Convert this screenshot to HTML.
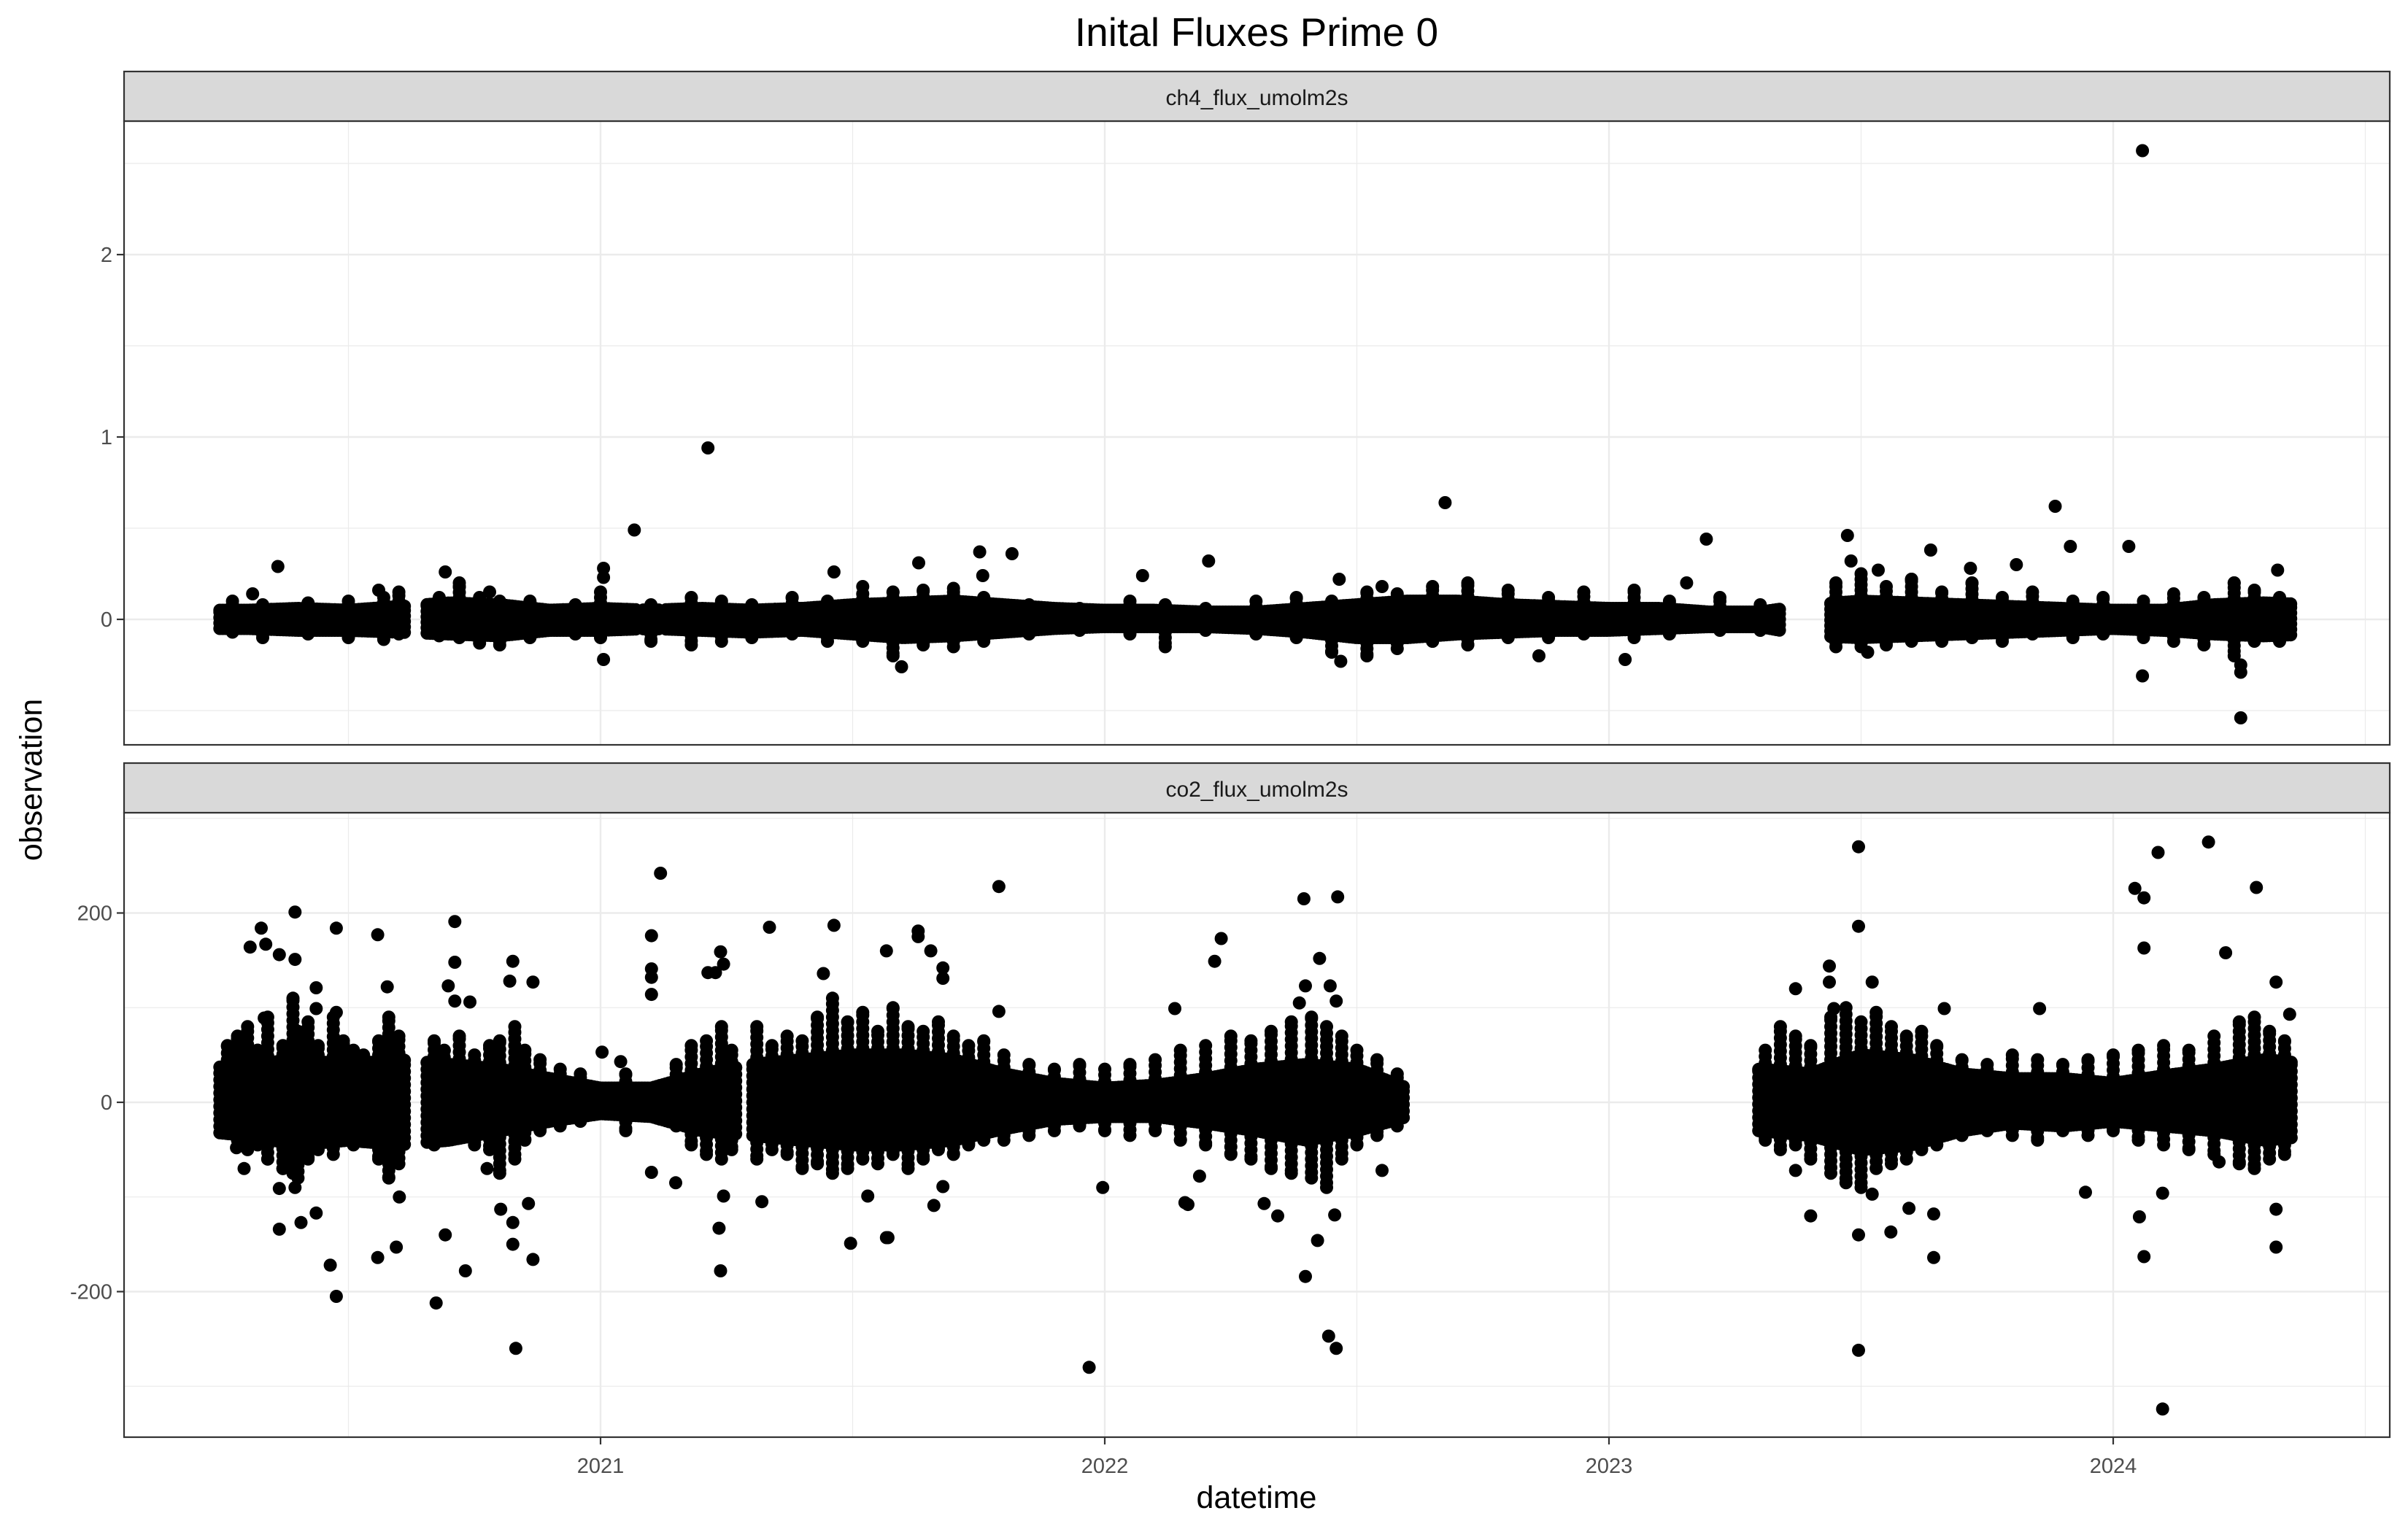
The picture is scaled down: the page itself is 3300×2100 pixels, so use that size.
<!DOCTYPE html>
<html><head><meta charset="utf-8"><style>
html,body{margin:0;padding:0;background:#fff}
svg{display:block;font-family:"Liberation Sans",Arial,sans-serif}
</style></head><body>
<svg id="chart" width="3300" height="2100" viewBox="0 0 3300 2100" xmlns="http://www.w3.org/2000/svg">
<rect width="3300" height="2100" fill="#fff"/>
<text x="1722" y="63" font-size="55" text-anchor="middle" fill="#000">Inital Fluxes Prime 0</text>
<text x="1722" y="2067" font-size="43" text-anchor="middle" fill="#000">datetime</text>
<text x="57" y="1069" font-size="43" text-anchor="middle" fill="#000" transform="rotate(-90 57 1069)">observation</text>
<g id="p1"></g>
<g id="p2"></g>
</svg>
<script>
// ---- data ----
const xTickYears = [2021, 2022, 2023, 2024];
const xTickLabels = ["2021", "2022", "2023", "2024"];
const ch4YTicks = [0, 1, 2];
const ch4YTickLabels = ["0", "1", "2"];
const co2YTicks = [-200, 0, 200];
const co2YTickLabels = ["-200", "0", "200"];

const ch4Segments = [[2020.245,2020.613],[2020.656,2021.07],[2021.085,2021.115],[2021.13,2023.342],[2023.44,2024.356]];
const ch4EnvYears = [2020.2,2020.3,2020.4,2020.5,2020.6,2020.7,2020.8,2020.9,2021.0,2021.1,2021.2,2021.3,2021.4,2021.5,2021.6,2021.7,2021.8,2021.9,2022.0,2022.1,2022.2,2022.3,2022.4,2022.5,2022.6,2022.7,2022.8,2022.9,2023.0,2023.1,2023.2,2023.3,2023.4,2023.5,2023.6,2023.7,2023.8,2023.9,2024.0,2024.1,2024.2,2024.3,2024.4];
const ch4EnvHi = [0.05,0.05,0.06,0.05,0.07,0.09,0.08,0.05,0.06,0.05,0.06,0.05,0.06,0.08,0.09,0.10,0.08,0.06,0.05,0.05,0.04,0.04,0.06,0.08,0.10,0.10,0.08,0.07,0.06,0.06,0.04,0.04,0.08,0.10,0.09,0.08,0.07,0.06,0.05,0.05,0.08,0.09,0.08];
const ch4EnvLo = [-0.05,-0.05,-0.06,-0.06,-0.07,-0.08,-0.09,-0.06,-0.06,-0.05,-0.06,-0.07,-0.06,-0.08,-0.10,-0.09,-0.07,-0.05,-0.04,-0.04,-0.04,-0.05,-0.07,-0.10,-0.10,-0.08,-0.07,-0.06,-0.06,-0.05,-0.04,-0.04,-0.09,-0.10,-0.09,-0.08,-0.07,-0.06,-0.05,-0.06,-0.08,-0.09,-0.08];
const ch4SpikeYears = [2020.27,2020.33,2020.42,2020.50,2020.57,2020.60,2020.68,2020.72,2020.76,2020.80,2020.86,2020.95,2021.00,2021.10,2021.18,2021.24,2021.30,2021.38,2021.45,2021.52,2021.58,2021.64,2021.70,2021.76,2021.85,2021.95,2022.05,2022.12,2022.20,2022.30,2022.38,2022.45,2022.52,2022.58,2022.65,2022.72,2022.80,2022.88,2022.95,2023.05,2023.12,2023.22,2023.30,2023.45,2023.50,2023.55,2023.60,2023.66,2023.72,2023.78,2023.84,2023.92,2023.98,2024.06,2024.12,2024.18,2024.24,2024.28,2024.33];
const ch4SpikeHi = [0.10,0.08,0.09,0.10,0.12,0.15,0.12,0.18,0.12,0.10,0.10,0.08,0.15,0.08,0.12,0.10,0.08,0.12,0.10,0.14,0.15,0.16,0.15,0.12,0.08,0.06,0.10,0.08,0.06,0.10,0.12,0.10,0.15,0.14,0.18,0.20,0.16,0.12,0.15,0.16,0.10,0.12,0.08,0.20,0.25,0.18,0.22,0.15,0.20,0.12,0.15,0.10,0.12,0.10,0.14,0.12,0.20,0.16,0.12];
const ch4SpikeLo = [-0.07,-0.10,-0.08,-0.10,-0.11,-0.08,-0.09,-0.10,-0.13,-0.14,-0.10,-0.08,-0.10,-0.12,-0.14,-0.12,-0.10,-0.08,-0.12,-0.12,-0.20,-0.14,-0.15,-0.12,-0.08,-0.06,-0.08,-0.15,-0.06,-0.08,-0.10,-0.18,-0.20,-0.16,-0.12,-0.14,-0.10,-0.10,-0.08,-0.10,-0.08,-0.06,-0.06,-0.15,-0.15,-0.14,-0.12,-0.12,-0.10,-0.12,-0.08,-0.10,-0.08,-0.10,-0.12,-0.14,-0.20,-0.12,-0.12];
const ch4OutYears = [2020.360,2020.692,2021.006,2021.006,2021.006,2021.067,2021.213,2021.463,2021.631,2021.597,2021.752,2021.758,2021.816,2022.075,2022.206,2022.465,2022.468,2022.675,2022.861,2023.032,2023.154,2023.193,2023.473,2023.513,2023.534,2023.638,2023.717,2023.808,2023.885,2023.915,2024.031,2024.058,2024.058,2024.253,2024.253,2024.253,2024.326,2020.310,2020.560,2020.720,2020.780,2021.520,2021.700,2022.550,2023.480,2023.600,2024.240];
const ch4OutVals = [0.29,0.26,0.28,0.23,-0.22,0.49,0.94,0.26,0.31,-0.26,0.37,0.24,0.36,0.24,0.32,0.22,-0.23,0.64,-0.20,-0.22,0.20,0.44,0.46,-0.18,0.27,0.38,0.28,0.30,0.62,0.40,0.40,2.57,-0.31,-0.54,-0.29,-0.25,0.27,0.14,0.16,0.20,0.15,0.18,0.17,0.18,0.32,0.22,0.20];

const co2Segments = [[2020.245,2020.613],[2020.656,2021.271],[2021.302,2022.596],[2023.297,2024.356]];
const co2EnvYears = [2020.2,2020.3,2020.4,2020.5,2020.6,2020.7,2020.8,2020.9,2021.0,2021.1,2021.2,2021.3,2021.4,2021.5,2021.6,2021.7,2021.8,2021.9,2022.0,2022.1,2022.2,2022.3,2022.4,2022.5,2022.6,2023.2,2023.3,2023.4,2023.5,2023.6,2023.7,2023.8,2023.9,2024.0,2024.1,2024.2,2024.3,2024.4];
const co2EnvHi = [35,40,45,40,45,40,35,25,15,15,30,40,45,50,50,45,30,20,15,18,25,35,40,35,15,30,35,30,50,45,30,25,25,20,28,35,45,40];
const co2EnvLo = [-30,-35,-45,-40,-45,-40,-30,-20,-12,-15,-30,-35,-40,-45,-45,-40,-28,-18,-15,-15,-22,-30,-40,-30,-15,-30,-30,-35,-50,-45,-30,-22,-25,-20,-25,-30,-40,-35];
const co2SpikeYears = [2020.26,2020.28,2020.30,2020.32,2020.34,2020.37,2020.39,2020.40,2020.42,2020.44,2020.47,2020.49,2020.51,2020.53,2020.56,2020.58,2020.60,2020.67,2020.69,2020.72,2020.75,2020.78,2020.80,2020.83,2020.85,2020.88,2020.92,2020.96,2021.05,2021.15,2021.18,2021.21,2021.24,2021.26,2021.31,2021.34,2021.37,2021.40,2021.43,2021.46,2021.49,2021.52,2021.55,2021.58,2021.61,2021.64,2021.67,2021.70,2021.73,2021.76,2021.80,2021.85,2021.90,2021.95,2022.00,2022.05,2022.10,2022.15,2022.20,2022.25,2022.29,2022.33,2022.37,2022.41,2022.44,2022.47,2022.50,2022.54,2022.58,2023.31,2023.34,2023.37,2023.40,2023.44,2023.47,2023.50,2023.53,2023.56,2023.59,2023.62,2023.65,2023.70,2023.75,2023.80,2023.85,2023.90,2023.95,2024.00,2024.05,2024.10,2024.15,2024.20,2024.25,2024.28,2024.31,2024.34];
const co2SpikeHi = [60,70,80,55,90,60,110,75,85,60,90,65,55,50,65,90,70,65,55,70,50,60,65,80,55,45,35,30,30,40,60,65,80,55,80,60,70,65,90,110,85,95,75,100,80,75,85,70,60,65,50,40,35,40,35,40,45,55,60,70,65,75,85,90,80,70,55,45,30,55,80,70,60,90,100,85,95,80,70,75,60,45,40,50,45,40,45,50,55,60,55,70,85,90,75,65];
const co2SpikeLo = [-30,-40,-50,-45,-60,-70,-75,-80,-60,-50,-55,-40,-45,-35,-60,-80,-65,-45,-40,-35,-45,-50,-75,-60,-40,-30,-25,-20,-30,-25,-45,-55,-60,-50,-60,-50,-55,-70,-65,-75,-70,-60,-65,-55,-70,-60,-50,-55,-45,-40,-40,-35,-30,-25,-30,-35,-30,-40,-45,-55,-60,-70,-75,-80,-90,-60,-45,-35,-25,-40,-50,-45,-60,-75,-85,-90,-70,-65,-60,-50,-45,-35,-30,-35,-40,-30,-35,-30,-40,-45,-50,-55,-65,-70,-60,-55];
const co2OutYears = [2020.394,2020.394,2020.394,2020.327,2020.305,2020.336,2020.363,2020.363,2020.363,2020.476,2020.476,2020.476,2020.558,2020.558,2020.436,2020.436,2020.436,2020.577,2020.333,2020.711,2020.711,2020.711,2020.698,2020.741,2020.826,2020.826,2020.826,2020.820,2020.866,2020.866,2021.119,2021.101,2021.101,2021.101,2021.101,2021.101,2021.213,2021.228,2021.238,2021.238,2021.244,2021.244,2021.335,2021.003,2021.040,2020.278,2020.293,2020.406,2020.464,2020.595,2020.601,2020.674,2020.692,2020.732,2020.775,2020.802,2020.832,2020.857,2021.235,2021.149,2021.320,2021.463,2021.630,2021.630,2021.567,2021.567,2021.655,2021.442,2021.679,2021.679,2021.679,2022.231,2022.218,2022.426,2022.398,2022.398,2022.447,2022.386,2022.459,2022.459,2022.139,2021.790,2021.790,2022.395,2022.462,2021.496,2021.570,2021.661,2021.996,2021.969,2022.444,2022.422,2022.456,2022.343,2022.159,2022.165,2021.530,2022.188,2022.316,2022.550,2023.495,2023.495,2023.495,2023.495,2023.370,2023.370,2023.437,2023.437,2023.522,2023.522,2023.446,2024.189,2024.089,2024.043,2024.061,2024.061,2024.061,2024.284,2024.223,2024.323,2024.323,2024.323,2024.350,2023.854,2023.665,2023.400,2023.559,2023.644,2023.644,2023.595,2023.945,2024.052,2024.098,2024.098,2024.210];
const co2OutVals = [201,151,-90,184,164,167,156,-134,-91,184,95,-205,177,-164,121,99,-117,122,89,191,148,107,123,106,149,-127,-150,128,127,-166,242,176,141,132,114,-74,137,137,159,-178,146,-99,185,53,43,-48,-70,-127,-172,-153,-100,-212,-140,-178,-70,-113,-260,-107,-133,-85,-105,187,181,175,160,-143,160,136,142,131,-89,173,149,152,123,-184,123,105,107,-260,99,96,228,215,217,-149,-143,-109,-90,-280,-247,-146,-119,-120,-106,-108,-99,-78,-107,-72,270,186,-262,-140,120,-72,144,127,127,-97,99,275,264,226,216,163,-163,227,158,127,-153,-113,93,99,99,-120,-137,-164,-118,-112,-95,-121,-96,-324,-63];

// ---- layout ----
const NS = "http://www.w3.org/2000/svg";
const PL = 170, PR = 3275;
const xScale = yr => 132 + 691 * (yr - 2020);
const panels = [
  {g:"p1", key:"ch4", strip:[98,166], plot:[166,1021], label:"ch4_flux_umolm2s",
   y: v => 849 - 250 * v, ticks: ch4YTicks, tickLabels: ch4YTickLabels, minors:[-0.5,0.5,1.5,2.5],
   segs: ch4Segments, envX: ch4EnvYears, hi: ch4EnvHi, lo: ch4EnvLo, sx: ch4SpikeYears, sh: ch4SpikeHi, sl: ch4SpikeLo,
   ox: ch4OutYears, oy: ch4OutVals, vstep: 0.03},
  {g:"p2", key:"co2", strip:[1046,1114], plot:[1114,1970], label:"co2_flux_umolm2s",
   y: v => 1511 - 1.2975 * v, ticks: co2YTicks, tickLabels: co2YTickLabels, minors:[-300,-100,100,300],
   segs: co2Segments, envX: co2EnvYears, hi: co2EnvHi, lo: co2EnvLo, sx: co2SpikeYears, sh: co2SpikeHi, sl: co2SpikeLo,
   ox: co2OutYears, oy: co2OutVals, vstep: 7}
];
function el(tag, attrs, parent){ const e=document.createElementNS(NS,tag); for(const k in attrs) e.setAttribute(k,attrs[k]); parent.appendChild(e); return e; }
function interp(xs, ys, x){ if(x<=xs[0]) return ys[0]; for(let i=1;i<xs.length;i++){ if(x<=xs[i]){ const t=(x-xs[i-1])/(xs[i]-xs[i-1]); return ys[i-1]+t*(ys[i]-ys[i-1]); } } return ys[ys.length-1]; }

panels.forEach((p, pi) => {
  const g = document.getElementById(p.g);
  const [t, b] = p.plot;
  el("rect",{x:PL,y:t,width:PR-PL,height:b-t,fill:"#fff"},g);
  const grid = el("g",{},g);
  
  
  [2020.5,2021.5,2022.5,2023.5,2024.5].forEach(yr => { const x=xScale(yr); if(x>PL&&x<PR) el("line",{x1:x,x2:x,y1:t,y2:b,stroke:"#EBEBEB","stroke-width":1.2},grid); });
  p.minors.forEach(v => { const y=p.y(v); if(y>t&&y<b) el("line",{x1:PL,x2:PR,y1:y,y2:y,stroke:"#EBEBEB","stroke-width":1.2},grid); });
  xTickYears.forEach(yr => { const x=xScale(yr); el("line",{x1:x,x2:x,y1:t,y2:b,stroke:"#EBEBEB","stroke-width":2.4},grid); });
  p.ticks.forEach(v => { const y=p.y(v); el("line",{x1:PL,x2:PR,y1:y,y2:y,stroke:"#EBEBEB","stroke-width":2.4},grid); });
  const pts = el("g",{fill:"#000"},g);
  
  
  // dense core band
  p.segs.forEach(([s,e]) => {
    for(let yr=s; yr<=e+1e-9; yr+=0.006){
      const hi=interp(p.envX,p.hi,yr), lo=interp(p.envX,p.lo,yr);
      for(let v=lo; v<=hi+1e-9; v+=p.vstep){
        el("circle",{cx:xScale(yr).toFixed(1),cy:p.y(v).toFixed(1),r:9},pts);
      }
      el("circle",{cx:xScale(yr).toFixed(1),cy:p.y(hi).toFixed(1),r:9},pts);
    }
  });
  // spike stacks
  p.sx.forEach((yr,i) => {
    const base = [interp(p.envX,p.lo,yr), interp(p.envX,p.hi,yr)];
    [[p.sh[i], base[1]], [p.sl[i], base[0]]].forEach(([v, edge]) => {
      const dir = v > edge ? 1 : -1;
      for(let u=edge; dir*(v-u) > 0; u += dir*p.vstep){
        el("circle",{cx:xScale(yr).toFixed(1),cy:p.y(u).toFixed(1),r:9},pts);
      }
      const c=el("circle",{cx:xScale(yr).toFixed(1),cy:p.y(v).toFixed(1),r:9},pts);
      
      
    });
  });
  p.ox.forEach((yr,i) => {
    const c=el("circle",{cx:xScale(yr).toFixed(1),cy:p.y(p.oy[i]).toFixed(1),r:9},pts);
    
    
  });
  el("rect",{x:PL,y:t,width:PR-PL,height:b-t,fill:"none",stroke:"#333","stroke-width":2.2},g);
  const st = el("rect",{x:PL,y:p.strip[0],width:PR-PL,height:p.strip[1]-p.strip[0],fill:"#D9D9D9",stroke:"#333","stroke-width":2.2},g);
  
  
  const stt = el("text",{x:(PL+PR)/2,y:p.strip[0]+46,"font-size":30,"text-anchor":"middle",fill:"#1A1A1A"},g);
  stt.textContent = p.label;
  
  
  p.ticks.forEach((v,i) => {
    const y=p.y(v);
    el("line",{x1:PL-10,x2:PL,y1:y,y2:y,stroke:"#333","stroke-width":2.2},g);
    const tx=el("text",{x:PL-16,y:y+10,"font-size":29,"text-anchor":"end",fill:"#4D4D4D"},g);
    tx.textContent = p.tickLabels[i];
    
    
  });
  if(pi===1){
    xTickYears.forEach((yr,i) => {
      const x=xScale(yr);
      el("line",{x1:x,x2:x,y1:b,y2:b+10,stroke:"#333","stroke-width":2.2},g);
      const tx=el("text",{x:x,y:2019,"font-size":29,"text-anchor":"middle",fill:"#4D4D4D"},g);
      tx.textContent = xTickLabels[i];
      
      
    });
  }
});
</script>
</body></html>
